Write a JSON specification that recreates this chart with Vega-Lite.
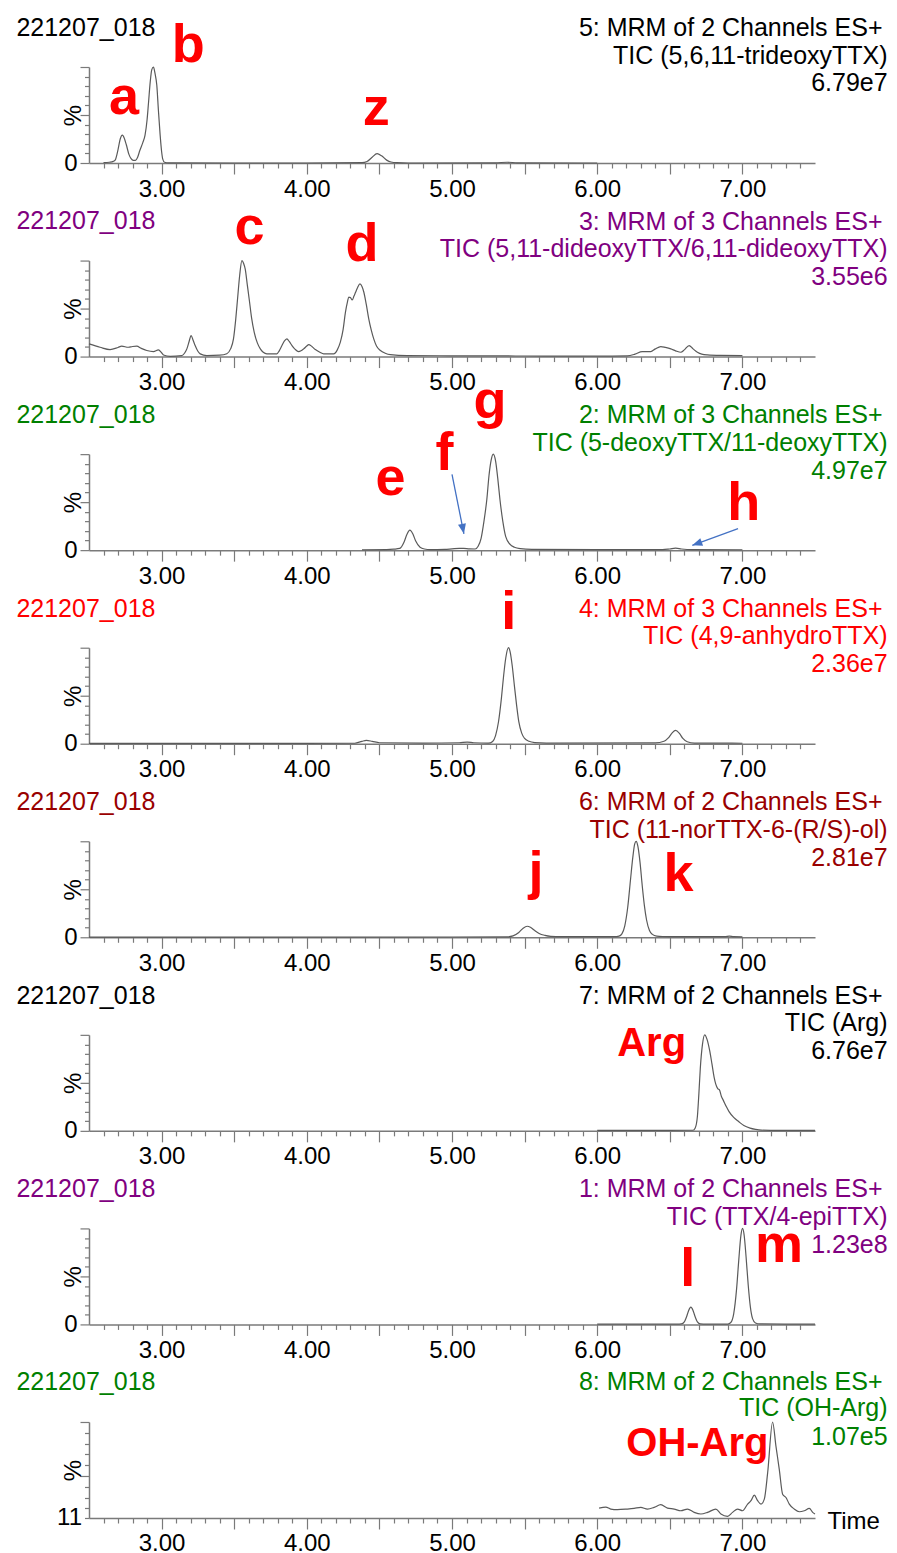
{
"$schema": "https://vega.github.io/schema/vega-lite/v6.json",
"padding": {"left": 16, "top": 15, "right": 4, "bottom": 4},
"bounds": "flush",
"spacing": 97.57,
"config": {
  "view": {"stroke": null},
  "font": "Liberation Sans",
  "axis": {"grid": false, "domainColor": "#7a7a7a", "domainWidth": 1.5, "tickColor": "#7a7a7a", "tickWidth": 1.2, "labelFont": "Liberation Sans", "labelFontSize": 24, "labelColor": "#000000", "titleFont": "Liberation Sans", "titleFontSize": 24, "titleFontWeight": "normal", "titleColor": "#000000"}
},
"datasets": {
"trace": [
{"panel":1,"t":2.6,"v":0.3},{"panel":1,"t":2.64,"v":0.8},{"panel":1,"t":2.667,"v":1.7},{"panel":1,"t":2.68,"v":3},{"panel":1,"t":2.7,"v":14},{"panel":1,"t":2.715,"v":25},{"panel":1,"t":2.73,"v":29},{"panel":1,"t":2.745,"v":25},{"panel":1,"t":2.757,"v":19},{"panel":1,"t":2.775,"v":9},{"panel":1,"t":2.79,"v":4.5},{"panel":1,"t":2.805,"v":2.8},{"panel":1,"t":2.82,"v":2.8},{"panel":1,"t":2.835,"v":6},{"panel":1,"t":2.85,"v":13},{"panel":1,"t":2.87,"v":21},{"panel":1,"t":2.886,"v":29},{"panel":1,"t":2.9,"v":45},{"panel":1,"t":2.91,"v":63},{"panel":1,"t":2.922,"v":85},{"panel":1,"t":2.932,"v":97},{"panel":1,"t":2.944,"v":100},{"panel":1,"t":2.955,"v":93},{"panel":1,"t":2.967,"v":81},{"panel":1,"t":2.978,"v":55},{"panel":1,"t":2.99,"v":29},{"panel":1,"t":3.0,"v":12},{"panel":1,"t":3.008,"v":4},{"panel":1,"t":3.02,"v":0.8},{"panel":1,"t":3.05,"v":0.2},{"panel":1,"t":3.5,"v":0},{"panel":1,"t":4.0,"v":0},{"panel":1,"t":4.38,"v":0.3},{"panel":1,"t":4.415,"v":1.5},{"panel":1,"t":4.45,"v":6},{"panel":1,"t":4.484,"v":9.7},{"panel":1,"t":4.515,"v":7.5},{"panel":1,"t":4.55,"v":3},{"panel":1,"t":4.58,"v":1},{"panel":1,"t":4.62,"v":0.3},{"panel":1,"t":4.7,"v":0},{"panel":1,"t":5.3,"v":0.2},{"panel":1,"t":5.38,"v":0.8},{"panel":1,"t":5.45,"v":0.2},{"panel":1,"t":6.0,"v":0},
{"panel":2,"t":2.5,"v":13.2},{"panel":2,"t":2.576,"v":9.7},{"panel":2,"t":2.645,"v":7.3},{"panel":2,"t":2.7,"v":9.5},{"panel":2,"t":2.725,"v":10.8},{"panel":2,"t":2.771,"v":9.7},{"panel":2,"t":2.8,"v":10.5},{"panel":2,"t":2.829,"v":10.8},{"panel":2,"t":2.86,"v":8.5},{"panel":2,"t":2.898,"v":6.3},{"panel":2,"t":2.944,"v":5.2},{"panel":2,"t":2.978,"v":6.9},{"panel":2,"t":3.0,"v":4},{"panel":2,"t":3.013,"v":1.7},{"panel":2,"t":3.059,"v":0.3},{"panel":2,"t":3.139,"v":1},{"panel":2,"t":3.16,"v":4},{"panel":2,"t":3.174,"v":8},{"panel":2,"t":3.19,"v":16},{"panel":2,"t":3.203,"v":21.9},{"panel":2,"t":3.217,"v":17},{"panel":2,"t":3.231,"v":11.5},{"panel":2,"t":3.25,"v":5.5},{"panel":2,"t":3.266,"v":2.8},{"panel":2,"t":3.311,"v":1},{"panel":2,"t":3.4,"v":1.5},{"panel":2,"t":3.449,"v":3},{"panel":2,"t":3.475,"v":8},{"panel":2,"t":3.495,"v":18.4},{"panel":2,"t":3.51,"v":38},{"panel":2,"t":3.523,"v":60},{"panel":2,"t":3.538,"v":85},{"panel":2,"t":3.553,"v":100},{"panel":2,"t":3.565,"v":97},{"panel":2,"t":3.576,"v":91},{"panel":2,"t":3.59,"v":75},{"panel":2,"t":3.606,"v":56.6},{"panel":2,"t":3.62,"v":40},{"panel":2,"t":3.638,"v":25.3},{"panel":2,"t":3.66,"v":14},{"panel":2,"t":3.68,"v":8},{"panel":2,"t":3.7,"v":4.5},{"panel":2,"t":3.725,"v":2.8},{"panel":2,"t":3.794,"v":2.8},{"panel":2,"t":3.81,"v":6},{"panel":2,"t":3.829,"v":11.5},{"panel":2,"t":3.845,"v":16},{"panel":2,"t":3.863,"v":18.4},{"panel":2,"t":3.88,"v":15.5},{"panel":2,"t":3.898,"v":11.5},{"panel":2,"t":3.92,"v":7.5},{"panel":2,"t":3.944,"v":5.2},{"panel":2,"t":3.96,"v":6},{"panel":2,"t":3.978,"v":8},{"panel":2,"t":4.0,"v":11},{"panel":2,"t":4.013,"v":12.5},{"panel":2,"t":4.035,"v":10.5},{"panel":2,"t":4.059,"v":7.3},{"panel":2,"t":4.09,"v":4.5},{"panel":2,"t":4.116,"v":2.8},{"panel":2,"t":4.185,"v":2.8},{"panel":2,"t":4.21,"v":7},{"panel":2,"t":4.231,"v":15},{"panel":2,"t":4.25,"v":28},{"panel":2,"t":4.266,"v":46},{"panel":2,"t":4.28,"v":57},{"panel":2,"t":4.289,"v":62},{"panel":2,"t":4.3,"v":61.5},{"panel":2,"t":4.313,"v":59},{"panel":2,"t":4.325,"v":63},{"panel":2,"t":4.336,"v":67},{"panel":2,"t":4.35,"v":72},{"panel":2,"t":4.366,"v":75.7},{"panel":2,"t":4.38,"v":73},{"panel":2,"t":4.393,"v":67},{"panel":2,"t":4.41,"v":54},{"panel":2,"t":4.427,"v":39},{"panel":2,"t":4.445,"v":27},{"panel":2,"t":4.461,"v":18.4},{"panel":2,"t":4.48,"v":11},{"panel":2,"t":4.507,"v":6.3},{"panel":2,"t":4.54,"v":3.5},{"panel":2,"t":4.576,"v":2},{"panel":2,"t":4.69,"v":1},{"panel":2,"t":5.0,"v":0.8},{"panel":2,"t":5.5,"v":0.6},{"panel":2,"t":6.0,"v":0.5},{"panel":2,"t":6.208,"v":0.8},{"panel":2,"t":6.26,"v":2.5},{"panel":2,"t":6.31,"v":5.2},{"panel":2,"t":6.369,"v":5.2},{"panel":2,"t":6.4,"v":8},{"panel":2,"t":6.438,"v":10.4},{"panel":2,"t":6.47,"v":9.5},{"panel":2,"t":6.507,"v":8},{"panel":2,"t":6.54,"v":6},{"panel":2,"t":6.576,"v":4.5},{"panel":2,"t":6.6,"v":7},{"panel":2,"t":6.633,"v":11.5},{"panel":2,"t":6.66,"v":8},{"panel":2,"t":6.69,"v":4.5},{"panel":2,"t":6.72,"v":2.5},{"panel":2,"t":6.759,"v":1.7},{"panel":2,"t":6.85,"v":1.2},{"panel":2,"t":7.0,"v":1},
{"panel":3,"t":4.38,"v":0.3},{"panel":3,"t":4.55,"v":0.5},{"panel":3,"t":4.6,"v":1},{"panel":3,"t":4.64,"v":1.8},{"panel":3,"t":4.67,"v":8.5},{"panel":3,"t":4.69,"v":16.6},{"panel":3,"t":4.71,"v":20.8},{"panel":3,"t":4.73,"v":17},{"panel":3,"t":4.75,"v":9.5},{"panel":3,"t":4.78,"v":3},{"panel":3,"t":4.81,"v":1.2},{"panel":3,"t":4.85,"v":0.6},{"panel":3,"t":4.95,"v":0.8},{"panel":3,"t":5.0,"v":1.3},{"panel":3,"t":5.05,"v":1.8},{"panel":3,"t":5.08,"v":1.8},{"panel":3,"t":5.12,"v":1.3},{"panel":3,"t":5.16,"v":1.2},{"panel":3,"t":5.18,"v":4},{"panel":3,"t":5.2,"v":12},{"panel":3,"t":5.22,"v":30},{"panel":3,"t":5.24,"v":53},{"panel":3,"t":5.255,"v":78},{"panel":3,"t":5.27,"v":94},{"panel":3,"t":5.284,"v":100},{"panel":3,"t":5.3,"v":93},{"panel":3,"t":5.315,"v":75},{"panel":3,"t":5.33,"v":53},{"panel":3,"t":5.35,"v":30},{"panel":3,"t":5.37,"v":14},{"panel":3,"t":5.4,"v":6},{"panel":3,"t":5.43,"v":3},{"panel":3,"t":5.47,"v":1.5},{"panel":3,"t":5.55,"v":0.7},{"panel":3,"t":6.0,"v":0.5},{"panel":3,"t":6.45,"v":0.5},{"panel":3,"t":6.5,"v":1.2},{"panel":3,"t":6.54,"v":2},{"panel":3,"t":6.58,"v":1.2},{"panel":3,"t":6.65,"v":0.5},{"panel":3,"t":7.0,"v":0.4},
{"panel":4,"t":2.5,"v":0.3},{"panel":4,"t":4.0,"v":0.3},{"panel":4,"t":4.33,"v":0.5},{"panel":4,"t":4.38,"v":2.5},{"panel":4,"t":4.41,"v":3.4},{"panel":4,"t":4.45,"v":2.5},{"panel":4,"t":4.5,"v":1},{"panel":4,"t":4.8,"v":0.6},{"panel":4,"t":5.05,"v":1},{"panel":4,"t":5.105,"v":1.7},{"panel":4,"t":5.15,"v":1},{"panel":4,"t":5.25,"v":0.6},{"panel":4,"t":5.28,"v":2.4},{"panel":4,"t":5.3,"v":8.5},{"panel":4,"t":5.32,"v":22.6},{"panel":4,"t":5.34,"v":47},{"panel":4,"t":5.355,"v":70},{"panel":4,"t":5.37,"v":89},{"panel":4,"t":5.389,"v":100},{"panel":4,"t":5.4,"v":96},{"panel":4,"t":5.415,"v":81},{"panel":4,"t":5.43,"v":60},{"panel":4,"t":5.445,"v":40},{"panel":4,"t":5.46,"v":23},{"panel":4,"t":5.48,"v":11},{"panel":4,"t":5.5,"v":5.5},{"panel":4,"t":5.53,"v":2.5},{"panel":4,"t":5.57,"v":1.2},{"panel":4,"t":5.65,"v":0.7},{"panel":4,"t":6.4,"v":0.8},{"panel":4,"t":6.46,"v":2.5},{"panel":4,"t":6.49,"v":6},{"panel":4,"t":6.515,"v":11},{"panel":4,"t":6.54,"v":13.8},{"panel":4,"t":6.565,"v":11},{"panel":4,"t":6.59,"v":5.5},{"panel":4,"t":6.62,"v":2},{"panel":4,"t":6.67,"v":0.7},{"panel":4,"t":7.0,"v":0.5},
{"panel":5,"t":2.5,"v":0.2},{"panel":5,"t":5.0,"v":0.3},{"panel":5,"t":5.38,"v":0.5},{"panel":5,"t":5.42,"v":1.5},{"panel":5,"t":5.46,"v":5},{"panel":5,"t":5.49,"v":9.5},{"panel":5,"t":5.518,"v":11.5},{"panel":5,"t":5.54,"v":10.5},{"panel":5,"t":5.57,"v":7},{"panel":5,"t":5.6,"v":4},{"panel":5,"t":5.64,"v":2},{"panel":5,"t":5.68,"v":1},{"panel":5,"t":5.75,"v":0.6},{"panel":5,"t":6.12,"v":0.6},{"panel":5,"t":6.15,"v":1.2},{"panel":5,"t":6.17,"v":3.6},{"panel":5,"t":6.19,"v":12},{"panel":5,"t":6.21,"v":31},{"panel":5,"t":6.23,"v":61},{"panel":5,"t":6.245,"v":83},{"panel":5,"t":6.258,"v":97},{"panel":5,"t":6.268,"v":100},{"panel":5,"t":6.28,"v":95},{"panel":5,"t":6.295,"v":78},{"panel":5,"t":6.31,"v":54},{"panel":5,"t":6.325,"v":33},{"panel":5,"t":6.34,"v":18},{"panel":5,"t":6.36,"v":7},{"panel":5,"t":6.38,"v":3},{"panel":5,"t":6.41,"v":1.2},{"panel":5,"t":6.45,"v":0.8},{"panel":5,"t":6.55,"v":0.6},{"panel":5,"t":6.88,"v":0.6},{"panel":5,"t":6.91,"v":1.2},{"panel":5,"t":6.94,"v":0.6},{"panel":5,"t":7.0,"v":0.5},
{"panel":6,"t":6.0,"v":0.5},{"panel":6,"t":6.5,"v":0.5},{"panel":6,"t":6.66,"v":0.6},{"panel":6,"t":6.675,"v":3},{"panel":6,"t":6.69,"v":15},{"panel":6,"t":6.7,"v":38},{"panel":6,"t":6.71,"v":65},{"panel":6,"t":6.725,"v":90},{"panel":6,"t":6.74,"v":100},{"panel":6,"t":6.757,"v":95},{"panel":6,"t":6.774,"v":84},{"panel":6,"t":6.79,"v":70},{"panel":6,"t":6.805,"v":56},{"panel":6,"t":6.816,"v":49},{"panel":6,"t":6.83,"v":44},{"panel":6,"t":6.842,"v":42.7},{"panel":6,"t":6.855,"v":36},{"panel":6,"t":6.868,"v":32},{"panel":6,"t":6.89,"v":25},{"panel":6,"t":6.908,"v":20},{"panel":6,"t":6.94,"v":14},{"panel":6,"t":6.974,"v":9.7},{"panel":6,"t":7.01,"v":5.5},{"panel":6,"t":7.053,"v":2.8},{"panel":6,"t":7.09,"v":1.5},{"panel":6,"t":7.13,"v":0.7},{"panel":6,"t":7.25,"v":0.5},{"panel":6,"t":7.5,"v":0.5},
{"panel":7,"t":6.0,"v":0.3},{"panel":7,"t":6.55,"v":0.3},{"panel":7,"t":6.58,"v":0.5},{"panel":7,"t":6.6,"v":2.7},{"panel":7,"t":6.62,"v":10},{"panel":7,"t":6.63,"v":14.6},{"panel":7,"t":6.645,"v":18},{"panel":7,"t":6.66,"v":14.6},{"panel":7,"t":6.67,"v":10},{"panel":7,"t":6.69,"v":2.7},{"panel":7,"t":6.71,"v":0.5},{"panel":7,"t":6.75,"v":0.3},{"panel":7,"t":6.9,"v":0.4},{"panel":7,"t":6.92,"v":2},{"panel":7,"t":6.94,"v":11},{"panel":7,"t":6.96,"v":37},{"panel":7,"t":6.975,"v":67},{"panel":7,"t":6.99,"v":93},{"panel":7,"t":7.001,"v":100},{"panel":7,"t":7.012,"v":93},{"panel":7,"t":7.025,"v":71},{"panel":7,"t":7.04,"v":41},{"panel":7,"t":7.055,"v":18},{"panel":7,"t":7.07,"v":6},{"panel":7,"t":7.09,"v":1.5},{"panel":7,"t":7.12,"v":0.5},{"panel":7,"t":7.3,"v":0.3},{"panel":7,"t":7.5,"v":0.3},
{"panel":8,"t":6.013,"v":20.2},{"panel":8,"t":6.059,"v":21.1},{"panel":8,"t":6.093,"v":19.3},{"panel":8,"t":6.139,"v":18.7},{"panel":8,"t":6.208,"v":19.3},{"panel":8,"t":6.254,"v":19.9},{"panel":8,"t":6.3,"v":20.8},{"panel":8,"t":6.346,"v":19.3},{"panel":8,"t":6.392,"v":20.8},{"panel":8,"t":6.438,"v":23.3},{"panel":8,"t":6.484,"v":20.2},{"panel":8,"t":6.53,"v":19.3},{"panel":8,"t":6.576,"v":17.7},{"panel":8,"t":6.622,"v":19.3},{"panel":8,"t":6.668,"v":16.2},{"panel":8,"t":6.714,"v":14.7},{"panel":8,"t":6.76,"v":16.2},{"panel":8,"t":6.817,"v":19.3},{"panel":8,"t":6.852,"v":14.7},{"panel":8,"t":6.898,"v":12.5},{"panel":8,"t":6.932,"v":16.2},{"panel":8,"t":6.967,"v":19.3},{"panel":8,"t":7.001,"v":17.7},{"panel":8,"t":7.036,"v":23.9},{"panel":8,"t":7.059,"v":27},{"panel":8,"t":7.082,"v":32.2},{"panel":8,"t":7.105,"v":27},{"panel":8,"t":7.128,"v":23.9},{"panel":8,"t":7.151,"v":28.5},{"panel":8,"t":7.174,"v":53},{"panel":8,"t":7.208,"v":100},{"panel":8,"t":7.231,"v":77.6},{"panel":8,"t":7.254,"v":56.1},{"panel":8,"t":7.277,"v":33.1},{"panel":8,"t":7.3,"v":30},{"panel":8,"t":7.323,"v":23.9},{"panel":8,"t":7.357,"v":19.3},{"panel":8,"t":7.392,"v":16.8},{"panel":8,"t":7.426,"v":17.7},{"panel":8,"t":7.461,"v":19.9},{"panel":8,"t":7.484,"v":16.2},{"panel":8,"t":7.5,"v":14.7}
],
"sample": [
{"panel":1,"t":2.0,"v":132.5,"text":"221207_018"},{"panel":2,"t":2.0,"v":132.5,"text":"221207_018"},{"panel":3,"t":2.0,"v":132.5,"text":"221207_018"},{"panel":4,"t":2.0,"v":132.5,"text":"221207_018"},{"panel":5,"t":2.0,"v":132.5,"text":"221207_018"},{"panel":6,"t":2.0,"v":132.5,"text":"221207_018"},{"panel":7,"t":2.0,"v":132.5,"text":"221207_018"},{"panel":8,"t":2.0,"v":129.5,"text":"221207_018"}
],
"header": [
{"panel":1,"t":7.965,"v":132.3,"text":"5: MRM of 2 Channels ES+"},{"panel":1,"t":8.0,"v":103.6,"text":"TIC (5,6,11-trideoxyTTX)"},{"panel":1,"t":8.0,"v":74.5,"text":"6.79e7"},
{"panel":2,"t":7.965,"v":132.3,"text":"3: MRM of 3 Channels ES+"},{"panel":2,"t":8.0,"v":103.6,"text":"TIC (5,11-dideoxyTTX/6,11-dideoxyTTX)"},{"panel":2,"t":8.0,"v":74.5,"text":"3.55e6"},
{"panel":3,"t":7.965,"v":132.3,"text":"2: MRM of 3 Channels ES+"},{"panel":3,"t":8.0,"v":103.6,"text":"TIC (5-deoxyTTX/11-deoxyTTX)"},{"panel":3,"t":8.0,"v":74.5,"text":"4.97e7"},
{"panel":4,"t":7.965,"v":132.3,"text":"4: MRM of 3 Channels ES+"},{"panel":4,"t":8.0,"v":103.6,"text":"TIC (4,9-anhydroTTX)"},{"panel":4,"t":8.0,"v":74.5,"text":"2.36e7"},
{"panel":5,"t":7.965,"v":132.3,"text":"6: MRM of 2 Channels ES+"},{"panel":5,"t":8.0,"v":103.6,"text":"TIC (11-norTTX-6-(R/S)-ol)"},{"panel":5,"t":8.0,"v":74.5,"text":"2.81e7"},
{"panel":6,"t":7.965,"v":132.3,"text":"7: MRM of 2 Channels ES+"},{"panel":6,"t":8.0,"v":103.6,"text":"TIC (Arg)"},{"panel":6,"t":8.0,"v":74.5,"text":"6.76e7"},
{"panel":7,"t":7.965,"v":132.3,"text":"1: MRM of 2 Channels ES+"},{"panel":7,"t":8.0,"v":103.6,"text":"TIC (TTX/4-epiTTX)"},{"panel":7,"t":8.0,"v":74.5,"text":"1.23e8"},
{"panel":8,"t":7.965,"v":129.7,"text":"8: MRM of 2 Channels ES+"},{"panel":8,"t":8.0,"v":105.2,"text":"TIC (OH-Arg)"},{"panel":8,"t":8.0,"v":79.1,"text":"1.07e5"}
],
"peaks": [
{"panel":1,"t":2.741,"v":51,"label":"a"},{"panel":1,"t":3.184,"v":105,"label":"b"},{"panel":1,"t":4.479,"v":39.6,"label":"z"},
{"panel":2,"t":3.605,"v":117,"label":"c"},{"panel":2,"t":4.38,"v":99.7,"label":"d"},
{"panel":3,"t":4.576,"v":57,"label":"e"},{"panel":3,"t":4.948,"v":83,"label":"f"},{"panel":3,"t":5.262,"v":138,"label":"g"},{"panel":3,"t":7.01,"v":31,"label":"h"},
{"panel":4,"t":5.39,"v":120,"label":"i"},
{"panel":5,"t":5.579,"v":50,"label":"j"},{"panel":5,"t":6.56,"v":48,"label":"k"},
{"panel":6,"t":6.375,"v":78,"label":"Arg"},
{"panel":7,"t":6.624,"v":39.6,"label":"l"},{"panel":7,"t":7.252,"v":64.6,"label":"m"},
{"panel":8,"t":6.69,"v":68.4,"label":"OH-Arg"}
],
"arrows": [
{"panel":3,"name":"f","t":5.0,"v":79,"t2":5.082,"v2":17},
{"panel":3,"name":"h","t":6.97,"v":22.5,"t2":6.655,"v2":5}
]
},
"vconcat": [
{
 "width": 726, "height": 96,
 "encoding": {
  "x": {"field": "t", "type": "quantitative", "scale": {"domain": [2.5, 7.5], "nice": false, "zero": false}, "axis": {"values": [2.6,2.7,2.8,2.9,3,3.1,3.2,3.3,3.4,3.5,3.6,3.7,3.8,3.9,4,4.1,4.2,4.3,4.4,4.5,4.6,4.7,4.8,4.9,5,5.1,5.2,5.3,5.4,5.5,5.6,5.7,5.8,5.9,6,6.1,6.2,6.3,6.4,6.5,6.6,6.7,6.8,6.9,7,7.1,7.2,7.3,7.4], "labelExpr": "abs(datum.value - round(datum.value)) < 0.001 ? format(datum.value, '.2f') : ''", "tickSize": {"condition": {"test": "abs(datum.value * 2 - round(datum.value * 2)) < 0.001", "value": 11}, "value": 5}, "labelPadding": 3, "labelOverlap": false, "labelFlush": false, "title": null}},
  "y": {"field": "v", "type": "quantitative", "scale": {"domain": [0, 100], "nice": false, "zero": false}, "axis": {"values": [0,10,20,30,40,50,60,70,80,90,100], "labelExpr": "datum.value == 0 ? '0' : ''", "tickSize": {"condition": {"test": "datum.value % 50 == 0", "value": 9}, "value": 4.5}, "labelPadding": 3, "labelOverlap": false, "title": "%", "titleX": -9, "titleY": 48, "titleAngle": 270, "titleAlign": "center", "titleBaseline": "alphabetic"}}
 },
 "layer": [
  {"data": {"name": "trace"}, "transform": [{"filter": "datum.panel == 1"}], "mark": {"type": "line", "color": "#5a5a5a", "strokeWidth": 1.2, "interpolate": "monotone"}},
  {"data": {"name": "sample"}, "transform": [{"filter": "datum.panel == 1"}], "mark": {"type": "text", "align": "left", "baseline": "alphabetic", "fontSize": 25, "color": "#000000"}, "encoding": {"text": {"field": "text"}}},
  {"data": {"name": "header"}, "transform": [{"filter": "datum.panel == 1"}], "mark": {"type": "text", "align": "right", "baseline": "alphabetic", "fontSize": 25, "color": "#000000"}, "encoding": {"text": {"field": "text"}}},
  {"data": {"name": "peaks"}, "transform": [{"filter": "datum.panel == 1"}], "mark": {"type": "text", "align": "center", "baseline": "alphabetic", "fontSize": 54, "fontWeight": "bold", "color": "#FF0000"}, "encoding": {"text": {"field": "label"}}}
 ]
},
{
 "width": 726, "height": 96,
 "encoding": {
  "x": {"field": "t", "type": "quantitative", "scale": {"domain": [2.5, 7.5], "nice": false, "zero": false}, "axis": {"values": [2.6,2.7,2.8,2.9,3,3.1,3.2,3.3,3.4,3.5,3.6,3.7,3.8,3.9,4,4.1,4.2,4.3,4.4,4.5,4.6,4.7,4.8,4.9,5,5.1,5.2,5.3,5.4,5.5,5.6,5.7,5.8,5.9,6,6.1,6.2,6.3,6.4,6.5,6.6,6.7,6.8,6.9,7,7.1,7.2,7.3,7.4], "labelExpr": "abs(datum.value - round(datum.value)) < 0.001 ? format(datum.value, '.2f') : ''", "tickSize": {"condition": {"test": "abs(datum.value * 2 - round(datum.value * 2)) < 0.001", "value": 11}, "value": 5}, "labelPadding": 3, "labelOverlap": false, "labelFlush": false, "title": null}},
  "y": {"field": "v", "type": "quantitative", "scale": {"domain": [0, 100], "nice": false, "zero": false}, "axis": {"values": [0,10,20,30,40,50,60,70,80,90,100], "labelExpr": "datum.value == 0 ? '0' : ''", "tickSize": {"condition": {"test": "datum.value % 50 == 0", "value": 9}, "value": 4.5}, "labelPadding": 3, "labelOverlap": false, "title": "%", "titleX": -9, "titleY": 48, "titleAngle": 270, "titleAlign": "center", "titleBaseline": "alphabetic"}}
 },
 "layer": [
  {"data": {"name": "trace"}, "transform": [{"filter": "datum.panel == 2"}], "mark": {"type": "line", "color": "#5a5a5a", "strokeWidth": 1.2, "interpolate": "monotone"}},
  {"data": {"name": "sample"}, "transform": [{"filter": "datum.panel == 2"}], "mark": {"type": "text", "align": "left", "baseline": "alphabetic", "fontSize": 25, "color": "#800080"}, "encoding": {"text": {"field": "text"}}},
  {"data": {"name": "header"}, "transform": [{"filter": "datum.panel == 2"}], "mark": {"type": "text", "align": "right", "baseline": "alphabetic", "fontSize": 25, "color": "#800080"}, "encoding": {"text": {"field": "text"}}},
  {"data": {"name": "peaks"}, "transform": [{"filter": "datum.panel == 2"}], "mark": {"type": "text", "align": "center", "baseline": "alphabetic", "fontSize": 54, "fontWeight": "bold", "color": "#FF0000"}, "encoding": {"text": {"field": "label"}}}
 ]
},
{
 "width": 726, "height": 96,
 "encoding": {
  "x": {"field": "t", "type": "quantitative", "scale": {"domain": [2.5, 7.5], "nice": false, "zero": false}, "axis": {"values": [2.6,2.7,2.8,2.9,3,3.1,3.2,3.3,3.4,3.5,3.6,3.7,3.8,3.9,4,4.1,4.2,4.3,4.4,4.5,4.6,4.7,4.8,4.9,5,5.1,5.2,5.3,5.4,5.5,5.6,5.7,5.8,5.9,6,6.1,6.2,6.3,6.4,6.5,6.6,6.7,6.8,6.9,7,7.1,7.2,7.3,7.4], "labelExpr": "abs(datum.value - round(datum.value)) < 0.001 ? format(datum.value, '.2f') : ''", "tickSize": {"condition": {"test": "abs(datum.value * 2 - round(datum.value * 2)) < 0.001", "value": 11}, "value": 5}, "labelPadding": 3, "labelOverlap": false, "labelFlush": false, "title": null}},
  "y": {"field": "v", "type": "quantitative", "scale": {"domain": [0, 100], "nice": false, "zero": false}, "axis": {"values": [0,10,20,30,40,50,60,70,80,90,100], "labelExpr": "datum.value == 0 ? '0' : ''", "tickSize": {"condition": {"test": "datum.value % 50 == 0", "value": 9}, "value": 4.5}, "labelPadding": 3, "labelOverlap": false, "title": "%", "titleX": -9, "titleY": 48, "titleAngle": 270, "titleAlign": "center", "titleBaseline": "alphabetic"}}
 },
 "layer": [
  {"data": {"name": "trace"}, "transform": [{"filter": "datum.panel == 3"}], "mark": {"type": "line", "color": "#5a5a5a", "strokeWidth": 1.2, "interpolate": "monotone"}},
  {"data": {"name": "arrows"}, "transform": [{"filter": "datum.panel == 3"}], "mark": {"type": "rule", "color": "#4472C4", "strokeWidth": 1.3}, "encoding": {"x2": {"field": "t2"}, "y2": {"field": "v2"}}},
  {"data": {"name": "arrows"}, "transform": [{"filter": "datum.name == 'f'"}], "mark": {"type": "point", "shape": "M0,0L0.8,2L-0.8,2Z", "filled": true, "size": 100, "angle": 168.7, "color": "#4472C4", "opacity": 1}, "encoding": {"x": {"field": "t2", "type": "quantitative"}, "y": {"field": "v2", "type": "quantitative"}}},
  {"data": {"name": "arrows"}, "transform": [{"filter": "datum.name == 'h'"}], "mark": {"type": "point", "shape": "M0,0L0.8,2L-0.8,2Z", "filled": true, "size": 100, "angle": 249.8, "color": "#4472C4", "opacity": 1}, "encoding": {"x": {"field": "t2", "type": "quantitative"}, "y": {"field": "v2", "type": "quantitative"}}},
  {"data": {"name": "sample"}, "transform": [{"filter": "datum.panel == 3"}], "mark": {"type": "text", "align": "left", "baseline": "alphabetic", "fontSize": 25, "color": "#008000"}, "encoding": {"text": {"field": "text"}}},
  {"data": {"name": "header"}, "transform": [{"filter": "datum.panel == 3"}], "mark": {"type": "text", "align": "right", "baseline": "alphabetic", "fontSize": 25, "color": "#008000"}, "encoding": {"text": {"field": "text"}}},
  {"data": {"name": "peaks"}, "transform": [{"filter": "datum.panel == 3"}], "mark": {"type": "text", "align": "center", "baseline": "alphabetic", "fontSize": 54, "fontWeight": "bold", "color": "#FF0000"}, "encoding": {"text": {"field": "label"}}}
 ]
},
{
 "width": 726, "height": 96,
 "encoding": {
  "x": {"field": "t", "type": "quantitative", "scale": {"domain": [2.5, 7.5], "nice": false, "zero": false}, "axis": {"values": [2.6,2.7,2.8,2.9,3,3.1,3.2,3.3,3.4,3.5,3.6,3.7,3.8,3.9,4,4.1,4.2,4.3,4.4,4.5,4.6,4.7,4.8,4.9,5,5.1,5.2,5.3,5.4,5.5,5.6,5.7,5.8,5.9,6,6.1,6.2,6.3,6.4,6.5,6.6,6.7,6.8,6.9,7,7.1,7.2,7.3,7.4], "labelExpr": "abs(datum.value - round(datum.value)) < 0.001 ? format(datum.value, '.2f') : ''", "tickSize": {"condition": {"test": "abs(datum.value * 2 - round(datum.value * 2)) < 0.001", "value": 11}, "value": 5}, "labelPadding": 3, "labelOverlap": false, "labelFlush": false, "title": null}},
  "y": {"field": "v", "type": "quantitative", "scale": {"domain": [0, 100], "nice": false, "zero": false}, "axis": {"values": [0,10,20,30,40,50,60,70,80,90,100], "labelExpr": "datum.value == 0 ? '0' : ''", "tickSize": {"condition": {"test": "datum.value % 50 == 0", "value": 9}, "value": 4.5}, "labelPadding": 3, "labelOverlap": false, "title": "%", "titleX": -9, "titleY": 48, "titleAngle": 270, "titleAlign": "center", "titleBaseline": "alphabetic"}}
 },
 "layer": [
  {"data": {"name": "trace"}, "transform": [{"filter": "datum.panel == 4"}], "mark": {"type": "line", "color": "#5a5a5a", "strokeWidth": 1.2, "interpolate": "monotone"}},
  {"data": {"name": "sample"}, "transform": [{"filter": "datum.panel == 4"}], "mark": {"type": "text", "align": "left", "baseline": "alphabetic", "fontSize": 25, "color": "#FF0000"}, "encoding": {"text": {"field": "text"}}},
  {"data": {"name": "header"}, "transform": [{"filter": "datum.panel == 4"}], "mark": {"type": "text", "align": "right", "baseline": "alphabetic", "fontSize": 25, "color": "#FF0000"}, "encoding": {"text": {"field": "text"}}},
  {"data": {"name": "peaks"}, "transform": [{"filter": "datum.panel == 4"}], "mark": {"type": "text", "align": "center", "baseline": "alphabetic", "fontSize": 54, "fontWeight": "bold", "color": "#FF0000"}, "encoding": {"text": {"field": "label"}}}
 ]
},
{
 "width": 726, "height": 96,
 "encoding": {
  "x": {"field": "t", "type": "quantitative", "scale": {"domain": [2.5, 7.5], "nice": false, "zero": false}, "axis": {"values": [2.6,2.7,2.8,2.9,3,3.1,3.2,3.3,3.4,3.5,3.6,3.7,3.8,3.9,4,4.1,4.2,4.3,4.4,4.5,4.6,4.7,4.8,4.9,5,5.1,5.2,5.3,5.4,5.5,5.6,5.7,5.8,5.9,6,6.1,6.2,6.3,6.4,6.5,6.6,6.7,6.8,6.9,7,7.1,7.2,7.3,7.4], "labelExpr": "abs(datum.value - round(datum.value)) < 0.001 ? format(datum.value, '.2f') : ''", "tickSize": {"condition": {"test": "abs(datum.value * 2 - round(datum.value * 2)) < 0.001", "value": 11}, "value": 5}, "labelPadding": 3, "labelOverlap": false, "labelFlush": false, "title": null}},
  "y": {"field": "v", "type": "quantitative", "scale": {"domain": [0, 100], "nice": false, "zero": false}, "axis": {"values": [0,10,20,30,40,50,60,70,80,90,100], "labelExpr": "datum.value == 0 ? '0' : ''", "tickSize": {"condition": {"test": "datum.value % 50 == 0", "value": 9}, "value": 4.5}, "labelPadding": 3, "labelOverlap": false, "title": "%", "titleX": -9, "titleY": 48, "titleAngle": 270, "titleAlign": "center", "titleBaseline": "alphabetic"}}
 },
 "layer": [
  {"data": {"name": "trace"}, "transform": [{"filter": "datum.panel == 5"}], "mark": {"type": "line", "color": "#5a5a5a", "strokeWidth": 1.2, "interpolate": "monotone"}},
  {"data": {"name": "sample"}, "transform": [{"filter": "datum.panel == 5"}], "mark": {"type": "text", "align": "left", "baseline": "alphabetic", "fontSize": 25, "color": "#990000"}, "encoding": {"text": {"field": "text"}}},
  {"data": {"name": "header"}, "transform": [{"filter": "datum.panel == 5"}], "mark": {"type": "text", "align": "right", "baseline": "alphabetic", "fontSize": 25, "color": "#990000"}, "encoding": {"text": {"field": "text"}}},
  {"data": {"name": "peaks"}, "transform": [{"filter": "datum.panel == 5"}], "mark": {"type": "text", "align": "center", "baseline": "alphabetic", "fontSize": 54, "fontWeight": "bold", "color": "#FF0000"}, "encoding": {"text": {"field": "label"}}}
 ]
},
{
 "width": 726, "height": 96,
 "encoding": {
  "x": {"field": "t", "type": "quantitative", "scale": {"domain": [2.5, 7.5], "nice": false, "zero": false}, "axis": {"values": [2.6,2.7,2.8,2.9,3,3.1,3.2,3.3,3.4,3.5,3.6,3.7,3.8,3.9,4,4.1,4.2,4.3,4.4,4.5,4.6,4.7,4.8,4.9,5,5.1,5.2,5.3,5.4,5.5,5.6,5.7,5.8,5.9,6,6.1,6.2,6.3,6.4,6.5,6.6,6.7,6.8,6.9,7,7.1,7.2,7.3,7.4], "labelExpr": "abs(datum.value - round(datum.value)) < 0.001 ? format(datum.value, '.2f') : ''", "tickSize": {"condition": {"test": "abs(datum.value * 2 - round(datum.value * 2)) < 0.001", "value": 11}, "value": 5}, "labelPadding": 3, "labelOverlap": false, "labelFlush": false, "title": null}},
  "y": {"field": "v", "type": "quantitative", "scale": {"domain": [0, 100], "nice": false, "zero": false}, "axis": {"values": [0,10,20,30,40,50,60,70,80,90,100], "labelExpr": "datum.value == 0 ? '0' : ''", "tickSize": {"condition": {"test": "datum.value % 50 == 0", "value": 9}, "value": 4.5}, "labelPadding": 3, "labelOverlap": false, "title": "%", "titleX": -9, "titleY": 48, "titleAngle": 270, "titleAlign": "center", "titleBaseline": "alphabetic"}}
 },
 "layer": [
  {"data": {"name": "trace"}, "transform": [{"filter": "datum.panel == 6"}], "mark": {"type": "line", "color": "#5a5a5a", "strokeWidth": 1.2, "interpolate": "monotone"}},
  {"data": {"name": "sample"}, "transform": [{"filter": "datum.panel == 6"}], "mark": {"type": "text", "align": "left", "baseline": "alphabetic", "fontSize": 25, "color": "#000000"}, "encoding": {"text": {"field": "text"}}},
  {"data": {"name": "header"}, "transform": [{"filter": "datum.panel == 6"}], "mark": {"type": "text", "align": "right", "baseline": "alphabetic", "fontSize": 25, "color": "#000000"}, "encoding": {"text": {"field": "text"}}},
  {"data": {"name": "peaks"}, "transform": [{"filter": "datum.panel == 6"}], "mark": {"type": "text", "align": "center", "baseline": "alphabetic", "fontSize": 40, "fontWeight": "bold", "color": "#FF0000"}, "encoding": {"text": {"field": "label"}}}
 ]
},
{
 "width": 726, "height": 96,
 "encoding": {
  "x": {"field": "t", "type": "quantitative", "scale": {"domain": [2.5, 7.5], "nice": false, "zero": false}, "axis": {"values": [2.6,2.7,2.8,2.9,3,3.1,3.2,3.3,3.4,3.5,3.6,3.7,3.8,3.9,4,4.1,4.2,4.3,4.4,4.5,4.6,4.7,4.8,4.9,5,5.1,5.2,5.3,5.4,5.5,5.6,5.7,5.8,5.9,6,6.1,6.2,6.3,6.4,6.5,6.6,6.7,6.8,6.9,7,7.1,7.2,7.3,7.4], "labelExpr": "abs(datum.value - round(datum.value)) < 0.001 ? format(datum.value, '.2f') : ''", "tickSize": {"condition": {"test": "abs(datum.value * 2 - round(datum.value * 2)) < 0.001", "value": 11}, "value": 5}, "labelPadding": 3, "labelOverlap": false, "labelFlush": false, "title": null}},
  "y": {"field": "v", "type": "quantitative", "scale": {"domain": [0, 100], "nice": false, "zero": false}, "axis": {"values": [0,10,20,30,40,50,60,70,80,90,100], "labelExpr": "datum.value == 0 ? '0' : ''", "tickSize": {"condition": {"test": "datum.value % 50 == 0", "value": 9}, "value": 4.5}, "labelPadding": 3, "labelOverlap": false, "title": "%", "titleX": -9, "titleY": 48, "titleAngle": 270, "titleAlign": "center", "titleBaseline": "alphabetic"}}
 },
 "layer": [
  {"data": {"name": "trace"}, "transform": [{"filter": "datum.panel == 7"}], "mark": {"type": "line", "color": "#5a5a5a", "strokeWidth": 1.2, "interpolate": "monotone"}},
  {"data": {"name": "sample"}, "transform": [{"filter": "datum.panel == 7"}], "mark": {"type": "text", "align": "left", "baseline": "alphabetic", "fontSize": 25, "color": "#800080"}, "encoding": {"text": {"field": "text"}}},
  {"data": {"name": "header"}, "transform": [{"filter": "datum.panel == 7"}], "mark": {"type": "text", "align": "right", "baseline": "alphabetic", "fontSize": 25, "color": "#800080"}, "encoding": {"text": {"field": "text"}}},
  {"data": {"name": "peaks"}, "transform": [{"filter": "datum.panel == 7"}], "mark": {"type": "text", "align": "center", "baseline": "alphabetic", "fontSize": 54, "fontWeight": "bold", "color": "#FF0000"}, "encoding": {"text": {"field": "label"}}}
 ]
},
{
 "width": 726, "height": 96,
 "encoding": {
  "x": {"field": "t", "type": "quantitative", "scale": {"domain": [2.5, 7.5], "nice": false, "zero": false}, "axis": {"values": [2.6,2.7,2.8,2.9,3,3.1,3.2,3.3,3.4,3.5,3.6,3.7,3.8,3.9,4,4.1,4.2,4.3,4.4,4.5,4.6,4.7,4.8,4.9,5,5.1,5.2,5.3,5.4,5.5,5.6,5.7,5.8,5.9,6,6.1,6.2,6.3,6.4,6.5,6.6,6.7,6.8,6.9,7,7.1,7.2,7.3,7.4], "labelExpr": "abs(datum.value - round(datum.value)) < 0.001 ? format(datum.value, '.2f') : ''", "tickSize": {"condition": {"test": "abs(datum.value * 2 - round(datum.value * 2)) < 0.001", "value": 11}, "value": 5}, "labelPadding": 3, "labelOverlap": false, "labelFlush": false, "title": "Time", "titleX": 738, "titleY": 11, "titleAlign": "left", "titleBaseline": "alphabetic", "titleAngle": 0}},
  "y": {"field": "v", "type": "quantitative", "scale": {"domain": [11, 100], "nice": false, "zero": false}, "axis": {"values": [11,20,30,40,50,60,70,80,90,100], "labelExpr": "datum.value == 11 ? '11' : ''", "tickSize": {"condition": {"test": "datum.value % 50 == 0", "value": 9}, "value": 4.5}, "labelPadding": 3, "labelOverlap": false, "title": "%", "titleX": -9, "titleY": 48, "titleAngle": 270, "titleAlign": "center", "titleBaseline": "alphabetic"}}
 },
 "layer": [
  {"data": {"name": "trace"}, "transform": [{"filter": "datum.panel == 8"}], "mark": {"type": "line", "color": "#5a5a5a", "strokeWidth": 1.2, "interpolate": "monotone"}},
  {"data": {"name": "sample"}, "transform": [{"filter": "datum.panel == 8"}], "mark": {"type": "text", "align": "left", "baseline": "alphabetic", "fontSize": 25, "color": "#008000"}, "encoding": {"text": {"field": "text"}}},
  {"data": {"name": "header"}, "transform": [{"filter": "datum.panel == 8"}], "mark": {"type": "text", "align": "right", "baseline": "alphabetic", "fontSize": 25, "color": "#008000"}, "encoding": {"text": {"field": "text"}}},
  {"data": {"name": "peaks"}, "transform": [{"filter": "datum.panel == 8"}], "mark": {"type": "text", "align": "center", "baseline": "alphabetic", "fontSize": 40, "fontWeight": "bold", "color": "#FF0000"}, "encoding": {"text": {"field": "label"}}}
 ]
}
]
}
